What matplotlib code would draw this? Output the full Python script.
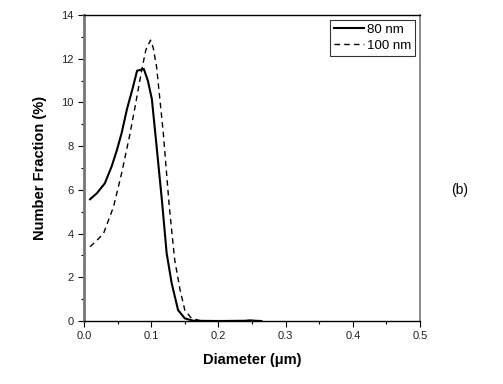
import matplotlib
matplotlib.use("Agg")
import matplotlib.pyplot as plt
from matplotlib.ticker import MultipleLocator, FormatStrFormatter

plt.rcParams["font.family"] = ["Liberation Sans", "DejaVu Sans"]

# 80 nm series
d80 = [0.009, 0.019, 0.031, 0.041, 0.049, 0.056, 0.064, 0.072, 0.079, 0.089,
       0.095, 0.101, 0.108, 0.116, 0.123, 0.1305, 0.140, 0.150, 0.163, 0.20,
       0.24, 0.247, 0.255, 0.264]
f80 = [5.57, 5.84, 6.3, 7.06, 7.82, 8.6, 9.7, 10.6, 11.45, 11.53,
       11.0, 10.15, 8.0, 5.5, 3.1, 1.72, 0.50, 0.12, 0.01, 0.0,
       0.01, 0.03, 0.01, 0.0]

# 100 nm series
d100 = [0.009, 0.018, 0.029, 0.044, 0.056, 0.068, 0.076, 0.086, 0.092, 0.099,
        0.103, 0.108, 0.118, 0.127, 0.135, 0.143, 0.150, 0.160, 0.175, 0.19]
f100 = [3.4, 3.65, 4.0, 5.23, 6.76, 8.5, 9.8, 11.5, 12.4, 12.85,
        12.5, 11.63, 8.6, 5.2, 2.79, 1.42, 0.50, 0.12, 0.0, 0.0]

fig = plt.figure(figsize=(5.03, 3.84), dpi=100)
ax = fig.add_axes([84 / 503, 1 - 321 / 384, 336 / 503, 306 / 384])

ax.plot(d80, f80, color="black", linewidth=1.5, label="80 nm")
ax.plot(d100, f100, color="black", linewidth=1.0, linestyle=(0, (4, 3)), label="100 nm")

ax.set_xlim(0, 0.5)
ax.set_ylim(0, 14)
ax.xaxis.set_major_locator(MultipleLocator(0.1))
ax.xaxis.set_minor_locator(MultipleLocator(0.05))
ax.yaxis.set_major_locator(MultipleLocator(2))
ax.yaxis.set_minor_locator(MultipleLocator(1))
ax.xaxis.set_major_formatter(FormatStrFormatter("%.1f"))
ax.tick_params(which="both", direction="out", top=False, right=False,
               labelsize=8, color="black", labelcolor="#222222")
ax.tick_params(which="major", length=4, width=0.8)
ax.tick_params(which="minor", length=2.5, width=0.8)

ax.spines["left"].set_color("#777777")
ax.spines["left"].set_linewidth(2.0)
ax.spines["right"].set_color("#777777")
ax.spines["right"].set_linewidth(1.2)
ax.spines["top"].set_linewidth(1.0)
ax.spines["bottom"].set_linewidth(1.0)

ax.set_xlabel("Diameter (\u03bcm)", fontsize=10.5, fontweight="bold", labelpad=8)
ax.set_ylabel("Number Fraction (%)", fontsize=10.5, fontweight="bold", labelpad=10)

leg = ax.legend(loc="upper right", fontsize=9.5, frameon=True, fancybox=False,
                edgecolor="black", borderpad=0.3, handlelength=2.25,
                handletextpad=0.25, labelspacing=0.3, borderaxespad=0.35)
leg.get_frame().set_linewidth(0.8)

fig.text(460 / 503, 1 - 190 / 384, "(b)", fontsize=10, ha="center", va="center")

fig.savefig("out.png", dpi=100)
